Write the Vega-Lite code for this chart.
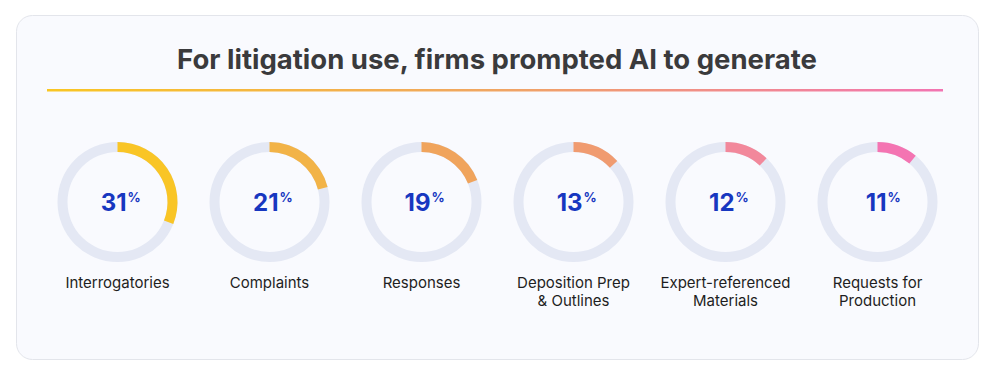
{
  "$schema": "https://vega.github.io/schema/vega-lite/v6.json",
  "width": 962,
  "height": 344,
  "autosize": {"type": "none"},
  "padding": {"left": 16, "top": 15, "right": 16, "bottom": 16},
  "background": "#ffffff",
  "config": {
    "view": {"fill": "#F9FAFE", "stroke": "#E3E5EB", "strokeWidth": 1, "cornerRadius": 16},
    "font": "Inter"
  },
  "title": {
    "text": "For litigation use, firms prompted AI to generate",
    "frame": "group",
    "anchor": "middle",
    "orient": "top",
    "baseline": "alphabetic",
    "offset": -81,
    "font": "Inter",
    "fontSize": 27.5,
    "fontWeight": "bold",
    "color": "#3A3A3C"
  },
  "data": {
    "values": [
      {"label": "Interrogatories", "pct": 31},
      {"label": "Complaints", "pct": 21},
      {"label": "Responses", "pct": 19},
      {"label": "Deposition Prep\n& Outlines", "pct": 13},
      {"label": "Expert-referenced\nMaterials", "pct": 12},
      {"label": "Requests for\nProduction", "pct": 11}
    ]
  },
  "encoding": {
    "x": {
      "field": "label",
      "type": "nominal",
      "sort": null,
      "scale": {"type": "band", "range": [25.5, 937.5], "paddingInner": 0, "paddingOuter": 0},
      "axis": null
    }
  },
  "layer": [
    {
      "data": {"values": [{"name": "divider"}]},
      "mark": {
        "type": "rect",
        "x": 31, "x2": 927, "y": 74, "y2": 76.5,
        "fill": {
          "gradient": "linear",
          "x1": 0, "y1": 0, "x2": 1, "y2": 0,
          "stops": [
            {"offset": 0, "color": "#F9C623"},
            {"offset": 0.5, "color": "#F0A562"},
            {"offset": 1, "color": "#F274B2"}
          ]
        }
      },
      "encoding": {"x": null}
    },
    {
      "mark": {"type": "arc", "radius": 60, "radius2": 50, "theta": 0, "theta2": 6.2832, "fill": "#E4E8F4", "yOffset": 15}
    },
    {
      "mark": {"type": "arc", "radius": 60, "radius2": 50, "yOffset": 15},
      "encoding": {
        "theta": {"field": "pct", "type": "quantitative", "stack": null, "scale": {"domain": [0, 100], "range": [0, 6.283185]}},
        "theta2": {"datum": 0},
        "color": {
          "field": "label",
          "type": "nominal",
          "sort": null,
          "scale": {"range": ["#F9C526", "#F2B347", "#F0A45C", "#F09B70", "#F2889B", "#F474B2"]},
          "legend": null
        }
      }
    },
    {
      "mark": {"type": "text", "align": "right", "baseline": "alphabetic", "dx": 9, "dy": 24, "font": "Inter", "fontSize": 24, "fontWeight": "bold", "color": "#1737C0"},
      "encoding": {"text": {"field": "pct", "type": "quantitative"}}
    },
    {
      "mark": {"type": "text", "align": "left", "baseline": "alphabetic", "dx": 10, "dy": 15, "font": "Inter", "fontSize": 13, "fontWeight": "bold", "color": "#1737C0", "text": "%"}
    },
    {
      "mark": {"type": "text", "align": "center", "baseline": "alphabetic", "dy": 101, "lineBreak": "\n", "lineHeight": 17.5, "font": "Inter", "fontSize": 15, "color": "#1E1E22"},
      "encoding": {"text": {"field": "label", "type": "nominal"}}
    }
  ]
}
